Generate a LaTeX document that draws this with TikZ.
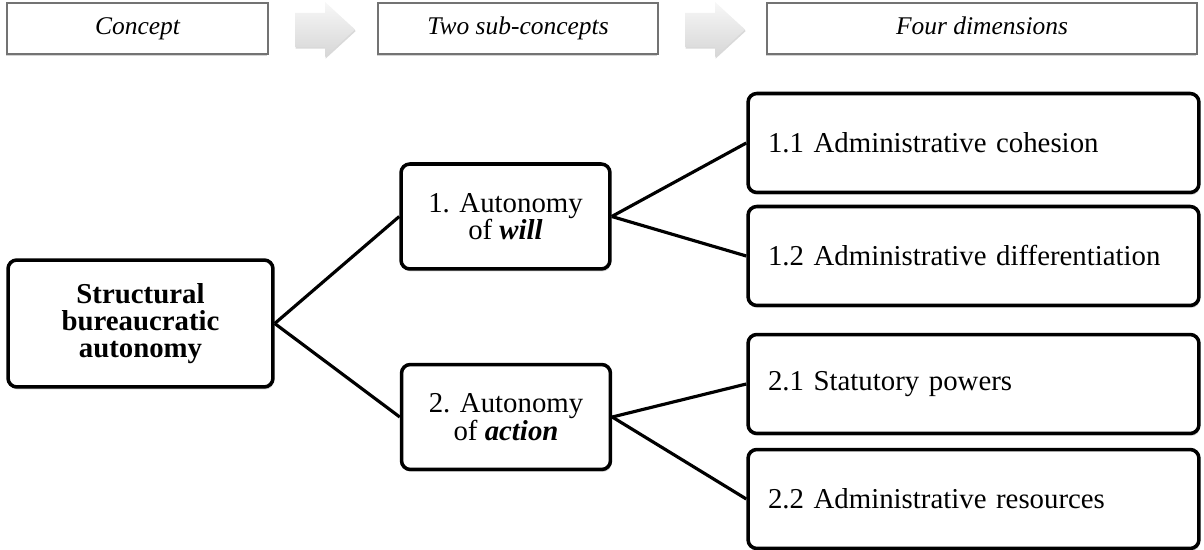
\documentclass[tikz,border=0pt]{standalone}
\usepackage{fontspec}
\setmainfont{Liberation Serif}
\usetikzlibrary{shadows}
\definecolor{hdrgray}{rgb}{0.45,0.45,0.45}

\begin{document}
\begin{tikzpicture}[x=0.02cm,y=-0.02cm,
  box/.style={draw,line width=2pt,rounded corners=5pt,fill=white,align=center,
    font=\fontsize{16.4}{15.5}\selectfont,
    drop shadow={opacity=0.35,shadow xshift=0.6pt,shadow yshift=-1.4pt}},
  dimbox/.style={box,align=left,inner xsep=0.4cm,text width=8.22cm,minimum height=1.98cm},
  hdr/.style={draw=hdrgray,line width=0.7pt,fill=white,minimum height=1.02cm,
    text height=0.9em,text depth=0.2em,
    font=\fontsize{14.5}{17}\selectfont\itshape,
    drop shadow={opacity=0.35,shadow xshift=-0.8pt,shadow yshift=-0.9pt}},
  hdrarrow/.style={top color=gray!6,bottom color=gray!32,draw=none,
    drop shadow={opacity=0.3,shadow xshift=0.4pt,shadow yshift=-0.9pt}},
  link/.style={line width=1.8pt}]
  \useasboundingbox (0,0) rectangle (1204,550);
  % header row
  \node[hdr,minimum width=5.22cm] (concept) at (137.5,28.5) {Concept};
  \node[hdr,minimum width=5.6cm] (sub) at (518,28.5) {Two sub-concepts};
  \node[hdr,minimum width=8.6cm] (dims) at (982,28.5) {Four dimensions};
  \shade[hdrarrow] (295,13) -- (325,13) -- (325,2) -- (355,29.5) -- (325,57) -- (325,47) -- (295,47) -- cycle;
  \shade[hdrarrow] (685,13) -- (715,13) -- (715,2) -- (745,29.5) -- (715,57) -- (715,47) -- (685,47) -- cycle;
  % tree
  \node[box,minimum width=5.3cm,minimum height=2.54cm] (root) at (140.5,323.5)
    {\textbf{Structural}\\\textbf{bureaucratic}\\\textbf{autonomy}};
  \node[box,minimum width=4.18cm,minimum height=2.1cm] (will) at (505.5,216.5)
    {1. Autonomy\\of \textbf{\textit{will}}};
  \node[box,minimum width=4.18cm,minimum height=2.1cm] (action) at (506,417)
    {2. Autonomy\\of \textbf{\textit{action}}};
  \node[dimbox] (coh) at (973.5,143) {1.1 Administrative cohesion};
  \node[dimbox] (diff) at (973.5,256) {1.2 Administrative differentiation};
  \node[dimbox] (stat) at (973.5,384) {2.1 Statutory powers};
  \node[dimbox] (res) at (973.5,499) {2.2 Administrative resources};
  \draw[link] (root.east) -- (will.west);
  \draw[link] (root.east) -- (action.west);
  \draw[link] (will.east) -- (coh.west);
  \draw[link] (will.east) -- (diff.west);
  \draw[link] (action.east) -- (stat.west);
  \draw[link] (action.east) -- (res.west);
\end{tikzpicture}
\end{document}
